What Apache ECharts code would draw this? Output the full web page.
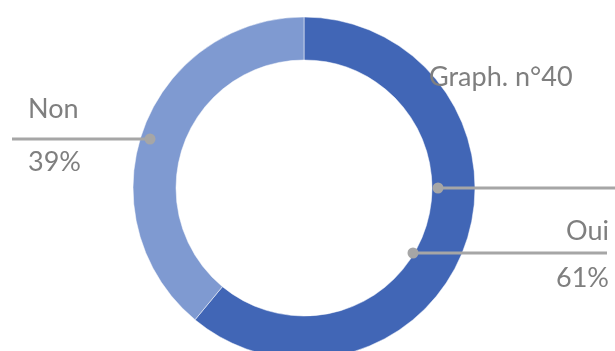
<!DOCTYPE html>
<html>
<head>
<meta charset="utf-8">
<script src="https://cdn.jsdelivr.net/npm/echarts@6/dist/echarts.min.js"></script>
<style>
  html, body { margin: 0; padding: 0; background: #ffffff; }
  #chart { width: 615px; height: 351px; }
</style>
</head>
<body>
<div id="chart"></div>
<script>
// Survey answers, share of respondents (%)
const categories = ['Oui', 'Non'];
const shares = [61, 39];
const sliceColors = ['#4166B6', '#7F9AD1'];
const chartTitle = 'Graph. n°40';

const FONT = 'Lato, "Open Sans", sans-serif';
const TEXT_COLOR = '#7F7F7F';
const RULE_COLOR = '#A6A6A6';
const FONT_SIZE = 27;

// Ring geometry
const CENTER = [304, 188];
const RADII = [128, 171];

// Leader rule for each label: rule height, dot end, outer end, text anchor and line spacing
const leaders = {
  Oui: { y: 253, dotX: 413, endX: 607, textX: 609, align: 'right', midY: 255, gap: 46.5 },
  Non: { y: 139, dotX: 150, endX: 12, textX: 28, align: 'left', midY: 136, gap: 53.5 }
};
// Rule running out from the ring beside the title
const titleRule = { y: 188, dotX: 438, endX: 615 };

const chart = echarts.init(document.getElementById('chart'), null, { renderer: 'canvas' });

const pieData = categories.map((name, i) => ({
  name: name,
  value: shares[i],
  itemStyle: { color: sliceColors[i] },
  label: { lineHeight: leaders[name].gap }
}));

// Leader rules with a round dot at the ring end, drawn above the ring
const rules = Object.values(leaders).concat([titleRule]).flatMap(l => ([
  {
    type: 'line',
    z: 100,
    shape: { x1: l.dotX, y1: l.y, x2: l.endX, y2: l.y },
    style: { stroke: RULE_COLOR, lineWidth: 3 }
  },
  {
    type: 'circle',
    z: 101,
    shape: { cx: l.dotX, cy: l.y, r: 5.5 },
    style: { fill: RULE_COLOR }
  }
]));

chart.setOption({
  animation: false,
  backgroundColor: '#ffffff',
  graphic: [
    ...rules,
    {
      type: 'text',
      z: 102,
      x: 429,
      y: 77.5,
      style: {
        text: chartTitle,
        fill: TEXT_COLOR,
        font: FONT_SIZE + 'px ' + FONT,
        verticalAlign: 'middle',
        align: 'left'
      }
    }
  ],
  series: [{
    type: 'pie',
    center: CENTER,
    radius: RADII,
    startAngle: 90,
    clockwise: true,
    avoidLabelOverlap: false,
    emphasis: { disabled: true },
    itemStyle: { borderColor: '#ffffff', borderWidth: 0.5 },
    label: {
      show: true,
      position: 'outside',
      formatter: '{b}\n{d}%',
      color: TEXT_COLOR,
      fontFamily: FONT,
      fontSize: FONT_SIZE
    },
    labelLine: { show: false },
    labelLayout: function (params) {
      const l = leaders[categories[params.dataIndex]];
      return {
        x: l.textX,
        y: l.midY,
        align: l.align,
        verticalAlign: 'middle'
      };
    },
    data: pieData
  }]
});
</script>
</body>
</html>
